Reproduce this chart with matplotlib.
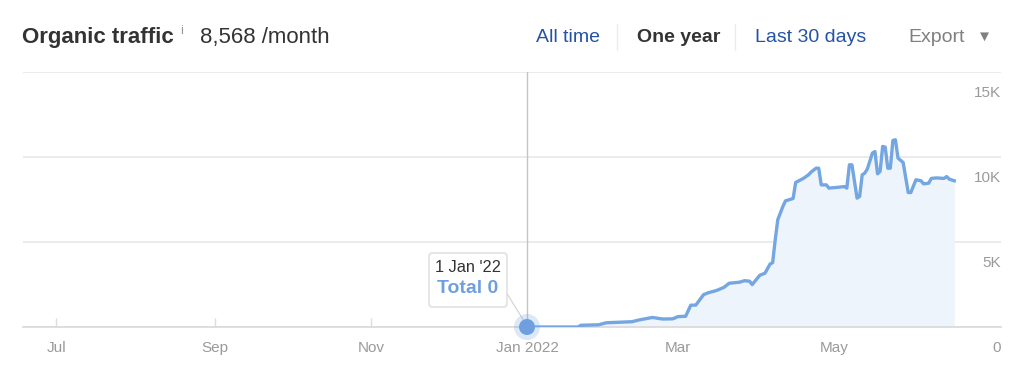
import matplotlib
matplotlib.use("Agg")
import matplotlib.pyplot as plt
import matplotlib.dates as mdates
from matplotlib.patches import FancyBboxPatch, Circle
from matplotlib.lines import Line2D
from matplotlib.transforms import IdentityTransform
import pandas as pd

plt.rcParams['font.family'] = ['Liberation Sans', 'DejaVu Sans']

# ---------------- data ----------------
dates = ["2022-01-01", "2022-01-21", "2022-01-22", "2022-01-29", "2022-02-01", "2022-02-06",
         "2022-02-11", "2022-02-14", "2022-02-19", "2022-02-23", "2022-02-27", "2022-03-01",
         "2022-03-04", "2022-03-06", "2022-03-08", "2022-03-11", "2022-03-13", "2022-03-16",
         "2022-03-19", "2022-03-21", "2022-03-25", "2022-03-27", "2022-03-29", "2022-03-30",
         "2022-04-02", "2022-04-04", "2022-04-06", "2022-04-07", "2022-04-08", "2022-04-09",
         "2022-04-11", "2022-04-12", "2022-04-15", "2022-04-16", "2022-04-19", "2022-04-21",
         "2022-04-22", "2022-04-24", "2022-04-25", "2022-04-26", "2022-04-28", "2022-04-29",
         "2022-05-02", "2022-05-05", "2022-05-06", "2022-05-07", "2022-05-08", "2022-05-10",
         "2022-05-11", "2022-05-12", "2022-05-13", "2022-05-14", "2022-05-16", "2022-05-17",
         "2022-05-18", "2022-05-19", "2022-05-20", "2022-05-21", "2022-05-22", "2022-05-23",
         "2022-05-24", "2022-05-25", "2022-05-26", "2022-05-28", "2022-05-30", "2022-05-31",
         "2022-06-02", "2022-06-04", "2022-06-05", "2022-06-07", "2022-06-08", "2022-06-10",
         "2022-06-13", "2022-06-14", "2022-06-15", "2022-06-17"]
traffic = [0, 0, 100, 130, 250, 280,
           310, 420, 560, 470, 480, 610,
           630, 1280, 1290, 1900, 2020, 2140,
           2330, 2570, 2630, 2720, 2690, 2490,
           3040, 3160, 3700, 3780, 5100, 6300,
           7080, 7410, 7550, 8490, 8730, 8940,
           9100, 9330, 9330, 8350, 8350, 8160,
           8200, 8250, 8160, 9530, 9530, 7570,
           7670, 8940, 9040, 9280, 10220, 10310,
           9000, 9140, 10610, 10570, 9330, 9330,
           10960, 11000, 9920, 9670, 7900, 7900,
           8650, 8590, 8410, 8450, 8730, 8760,
           8730, 8840, 8690, 8590]
month_ticks = ["2021-07-01", "2021-09-01", "2021-11-01", "2022-01-01", "2022-03-01", "2022-05-01"]
month_labels = ["Jul", "Sep", "Nov", "Jan 2022", "Mar", "May"]
y_ticks = [0, 5000, 10000, 15000]
y_labels = ["0", "5K", "10K", "15K"]
x_range = ["2021-06-17 22:00", "2022-07-05 06:00"]
hover_date = "2022-01-01"
hover_value = 0
hover_title = "1 Jan '22"
hover_text = "Total 0"

# ---------------- figure ----------------
W, H = 1024, 374
fig = plt.figure(figsize=(W / 100, H / 100), dpi=100)
ax = fig.add_axes([22.7 / W, 1 - 327 / H, (1001 - 22.7) / W, (327 - 71.7) / H])

x = pd.to_datetime(dates)
line_color = "#74a6e1"
ax.fill_between(x, traffic, 0, color="#eef4fc", linewidth=0, zorder=1)
ax.plot(x, traffic, color=line_color, linewidth=2.4, solid_joinstyle="round", zorder=3)

ax.set_xlim(pd.to_datetime(x_range[0]), pd.to_datetime(x_range[1]))
ax.set_ylim(0, 15000)

for s in ["top", "left", "right"]:
    ax.spines[s].set_visible(False)
ax.spines["bottom"].set_color("#d9d9d9")
ax.spines["bottom"].set_linewidth(1.2)

ax.set_yticks(y_ticks)
ax.set_yticklabels([])
ax.tick_params(axis="y", length=0)
ax.grid(axis="y", color="#e8e8e8", linewidth=1.2, zorder=0)
ax.set_axisbelow(True)

ax.set_xticks(pd.to_datetime(month_ticks))
ax.set_xticklabels(month_labels)
ax.tick_params(axis="x", direction="in", length=6.5, width=1, color="#dddddd",
               labelsize=11, labelcolor="#9a9a9a", pad=10)

for v, lab in zip(y_ticks, y_labels):
    ax.annotate(lab, xy=(1.0, v), xycoords=("axes fraction", "data"),
                xytext=(0, -21), textcoords="offset pixels",
                ha="right", va="center", fontsize=11, color="#9a9a9a")

# hover crosshair
hx = pd.to_datetime(hover_date)
ax.axvline(hx, color="#c4c4c4", linewidth=1, zorder=2)

# hover marker & tooltip (in display pixels)
fig.canvas.draw()
px, py = ax.transData.transform((mdates.date2num(hx), hover_value))
idt = IdentityTransform()
fig.add_artist(Circle((px, py), 13, transform=idt, facecolor="#74a6e1", alpha=0.25,
                      edgecolor="none", zorder=5))
fig.add_artist(Circle((px, py), 8, transform=idt, facecolor="#6f9fdf",
                      edgecolor="none", zorder=6))
bx0, bx1 = px - 98, px - 20
by0, by1 = py + 20, py + 74
fig.add_artist(Line2D([bx1 - 1, px - 3], [by0 + 15, py + 6], transform=idt,
                      color="#d5d5d5", linewidth=0.9, zorder=4))
fig.add_artist(FancyBboxPatch((bx0, by0), bx1 - bx0, by1 - by0,
                              boxstyle="round,pad=0,rounding_size=3", transform=idt,
                              facecolor="white", edgecolor="#dcdcdc", linewidth=1, zorder=7))
cx = (bx0 + bx1) / 2
fig.text(cx / W, (py + 60) / H, hover_title, ha="center", va="center",
         fontsize=11.8, color="#333333", zorder=8)
fig.text(cx / W, (py + 38.5) / H, hover_text, ha="center", va="center",
         fontsize=14, fontweight="bold", color="#6f9fdf", zorder=8)

# ---------------- header ----------------
def fx(p):
    return p / W

def fy(p):
    return 1 - p / H

fig.text(fx(22), fy(37), "Organic traffic", fontsize=16, fontweight="bold",
         color="#333333", ha="left", va="center")
fig.text(fx(180), fy(31), "i", fontsize=9, color="#999999", ha="left", va="center")
fig.text(fx(200), fy(37), "8,568 /month", fontsize=16, color="#333333",
         ha="left", va="center")
fig.text(fx(536), fy(38), "All time", fontsize=14, color="#2452a5", ha="left", va="center")
fig.text(fx(637), fy(38), "One year", fontsize=14, fontweight="bold", color="#333333",
         ha="left", va="center")
fig.text(fx(755), fy(38), "Last 30 days", fontsize=14, color="#2452a5", ha="left", va="center")
fig.text(fx(908), fy(38), "Export", fontsize=14, color="#808080", ha="left", va="center")
fig.text(fx(984), fy(37), "▼", fontsize=11, color="#808080", ha="center", va="center")
for sx in (617, 735):
    fig.add_artist(Line2D([fx(sx), fx(sx)], [fy(24), fy(50)], transform=fig.transFigure,
                          color="#ececec", linewidth=1))

fig.savefig("out.png", dpi=100)
